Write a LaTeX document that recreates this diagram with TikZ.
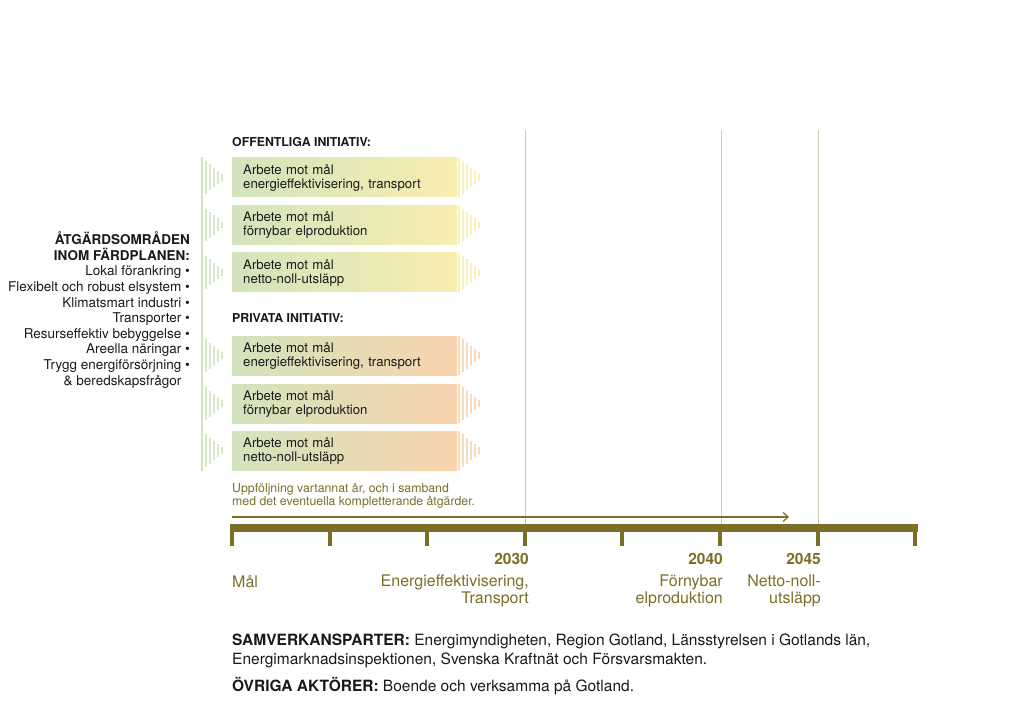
\documentclass[tikz,border=0pt]{standalone}
\usepackage{fontspec}
\setmainfont{TeX Gyre Heros}
\usetikzlibrary{arrows.meta}

\definecolor{tlolive}{RGB}{122,110,40}
\definecolor{tlgrid}{RGB}{208,204,176}
\definecolor{cgreen}{RGB}{210,228,188}
\definecolor{cyellow}{RGB}{249,237,176}
\definecolor{corange}{RGB}{248,211,174}

\begin{document}
\begin{tikzpicture}[x=1pt, y=-1pt,
  every node/.style={inner sep=0pt, text=black!90},
  initbox/.style={anchor=west, minimum width=225pt, minimum height=39pt,
    text width=203pt, inner xsep=11pt, align=left,
    font=\fontsize{13.2}{14}\selectfont},
  heading/.style={anchor=west, font=\fontsize{12.3}{14}\selectfont\bfseries},
  year/.style={anchor=base east, text=tlolive, font=\fontsize{15.5}{16}\selectfont\bfseries},
  goal/.style={anchor=north east, align=right, text=tlolive, font=\fontsize{16}{16.5}\selectfont}]

  \useasboundingbox (0,0) rectangle (1024,708);

  \coordinate (t0) at (232,528);
  \coordinate (f1) at (232,517);
  \coordinate (f2) at (789,517);

  % vertical year lines
  \foreach \i in {3,5,6}
    \draw[tlgrid, line width=1pt] ({232+97.6*\i+1},130) -- ({232+97.6*\i+1},524);

  % left edge line
  \fill[cgreen] (201.2,157) rectangle (202.8,471);

  % stripes left and right of the boxes
  \foreach \y/\c in {177.5/cyellow, 225/cyellow, 272.5/cyellow,
                     355.5/corange, 403.5/corange, 450.5/corange} {
    \foreach \k in {1,...,5}
      \fill[cgreen!85] ({202+4*\k-0.8},{\y-3.25*(6-\k)}) rectangle ++(1.6,{6.5*(6-\k)});
    \foreach \k in {0,...,5}
      \fill[\c!85] ({459+4*\k-0.8},{\y-3.25*(6-\k)}) rectangle ++(1.6,{6.5*(6-\k)});
  }

  \node[heading] (offhead) at (232,142) {OFFENTLIGA INITIATIV:};
  \node[initbox, left color=cgreen, right color=cyellow] (off1) at (232,177.5)
    {Arbete mot mål\\energieffektivisering, transport};
  \node[initbox, left color=cgreen, right color=cyellow] (off2) at (232,225)
    {Arbete mot mål\\förnybar elproduktion};
  \node[initbox, left color=cgreen, right color=cyellow] (off3) at (232,272.5)
    {Arbete mot mål\\netto-noll-utsläpp};

  \node[heading] (privhead) at (232,318) {PRIVATA INITIATIV:};
  \node[initbox, left color=cgreen, right color=corange] (priv1) at (232,355.5)
    {Arbete mot mål\\energieffektivisering, transport};
  \node[initbox, left color=cgreen, right color=corange] (priv2) at (232,403.5)
    {Arbete mot mål\\förnybar elproduktion};
  \node[initbox, left color=cgreen, right color=corange] (priv3) at (232,450.5)
    {Arbete mot mål\\netto-noll-utsläpp};

  \node[anchor=north east, align=right, font=\fontsize{13.5}{15.6}\selectfont] (areas) at (190,231.5)
    {\textbf{ÅTGÄRDSOMRÅDEN}\\ \textbf{INOM FÄRDPLANEN:}\\
     Lokal förankring \textbullet\\ Flexibelt och robust elsystem \textbullet\\
     Klimatsmart industri \textbullet\\ Transporter \textbullet\\
     Resurseffektiv bebyggelse \textbullet\\ Areella näringar \textbullet\\
     Trygg energiförsörjning \textbullet\\ \& beredskapsfrågor\phantom{ \textbullet}};

  \node[anchor=north west, align=left, text=tlolive, font=\fontsize{12.3}{13.5}\selectfont] (follow) at (232,483)
    {Uppföljning vartannat år, och i samband\\med det eventuella kompletterande åtgärder.};

  \draw[tlolive, line width=1.2pt, -{Straight Barb[length=5pt, width=9pt]}] (f1) -- (f2);

  % timeline
  \fill[tlolive] (230,524) rectangle (917.5,531.5);
  \foreach \i in {0,...,7}
    \fill[tlolive] ({232+97.6*\i-2},528) rectangle ++(4,18);

  \node[year] (y2030) at (529,564.5) {2030};
  \node[year] (y2040) at (723,564.5) {2040};
  \node[year] (y2045) at (821,564.5) {2045};

  \node[goal, anchor=north west] (g0) at (232,575) {Mål};
  \node[goal] (g2030) at (529,575) {Energieffektivisering,\\Transport};
  \node[goal] (g2040) at (723,575) {Förnybar\\elproduktion};
  \node[goal] (g2045) at (821,575) {Netto-noll-\\utsläpp};

  \node[anchor=north west, align=left, font=\fontsize{15.5}{19}\selectfont] (partners) at (232,634)
    {\textbf{SAMVERKANSPARTER:} Energimyndigheten, Region Gotland, Länsstyrelsen i Gotlands län,\\
     Energimarknadsinspektionen, Svenska Kraftnät och Försvarsmakten.};
  \node[anchor=base west, font=\fontsize{15.5}{19}\selectfont] (others) at (232,691.6)
    {\textbf{ÖVRIGA AKTÖRER:} Boende och verksamma på Gotland.};

\end{tikzpicture}
\end{document}
